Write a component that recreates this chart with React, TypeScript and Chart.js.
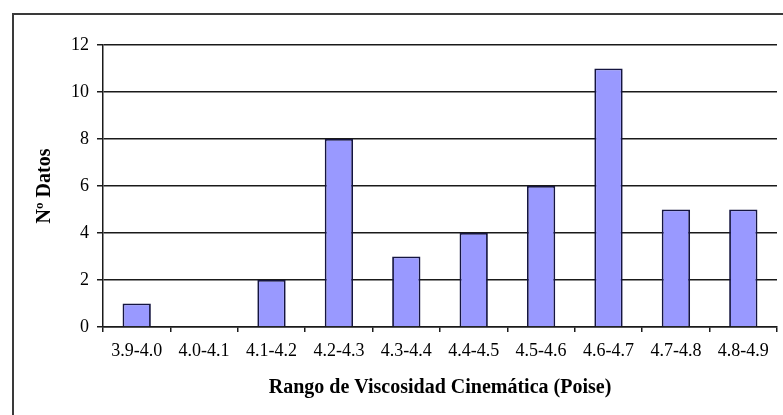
import React, { useEffect, useRef } from "react";
import { Chart, registerables } from "chart.js";

Chart.register(...registerables);

const categories = [
  "3.9-4.0",
  "4.0-4.1",
  "4.1-4.2",
  "4.2-4.3",
  "4.3-4.4",
  "4.4-4.5",
  "4.5-4.6",
  "4.6-4.7",
  "4.7-4.8",
  "4.8-4.9",
];
const counts = [1, 0, 2, 8, 3, 4, 6, 11, 5, 5];
const yTitle = "Nº Datos";
const xTitle = "Rango de Viscosidad Cinemática (Poise)";
const yMin = 0;
const yMax = 12;
const yStep = 2;

const framePlugin = {
  id: "frame",
  beforeDraw(chart: any) {
    const ctx = chart.ctx;
    ctx.save();
    ctx.fillStyle = "#ffffff";
    ctx.fillRect(0, 0, chart.width, chart.height);
    ctx.strokeStyle = "#3a3a3a";
    ctx.lineWidth = 2;
    ctx.beginPath();
    ctx.moveTo(13, chart.height + 2);
    ctx.lineTo(13, 14);
    ctx.lineTo(chart.width + 2, 14);
    ctx.stroke();
    ctx.restore();
  },
};

export default function App() {
  const canvasRef = useRef<HTMLCanvasElement | null>(null);

  useEffect(() => {
    if (!canvasRef.current) return;
    const chart = new Chart(canvasRef.current, {
      type: "bar",
      data: {
        labels: categories,
        datasets: [
          {
            data: counts,
            backgroundColor: "#9999FF",
            borderColor: "#151540",
            borderWidth: 1.8,
            barPercentage: 0.42,
            categoryPercentage: 1,
          },
        ],
      },
      plugins: [framePlugin],
      options: {
        responsive: false,
        animation: false,
        layout: { padding: { top: 45, right: 6, left: 0, bottom: 0 } },
        plugins: {
          legend: { display: false },
          tooltip: { enabled: false },
        },
        scales: {
          x: {
            afterFit: (s: any) => {
              s.height = 88;
            },
            grid: {
              display: true,
              drawOnChartArea: false,
              drawTicks: true,
              tickLength: 5,
              color: "#1a1a1a",
              lineWidth: 1.5,
              offset: true,
            },
            border: { display: true, color: "#1a1a1a", width: 1.5 },
            ticks: {
              color: "#000000",
              padding: 8,
              maxRotation: 0,
              autoSkip: false,
              font: { family: "'Liberation Serif', serif", size: 18 },
            },
            title: {
              display: true,
              text: xTitle,
              color: "#000000",
              padding: { top: 0, bottom: 15 },
              font: { family: "'Liberation Serif', serif", size: 20, weight: "bold" },
            },
          },
          y: {
            min: yMin,
            max: yMax,
            afterFit: (s: any) => {
              s.width = 103;
            },
            grid: {
              color: "#1a1a1a",
              lineWidth: 1.5,
              tickLength: 6,
            },
            border: { display: true, color: "#1a1a1a", width: 1.5 },
            ticks: {
              stepSize: yStep,
              color: "#000000",
              padding: 8,
              font: { family: "'Liberation Serif', serif", size: 18 },
            },
            title: {
              display: true,
              text: yTitle,
              color: "#000000",
              padding: { top: 33, bottom: 0 },
              font: { family: "'Liberation Serif', serif", size: 20, weight: "bold" },
            },
          },
        },
      },
    });
    return () => chart.destroy();
  }, []);

  return (
    <div
      style={{
        position: "absolute",
        left: 0,
        top: 0,
        width: 783,
        height: 415,
        background: "#ffffff",
      }}
    >
      <canvas ref={canvasRef} width={783} height={415} />
    </div>
  );
}
